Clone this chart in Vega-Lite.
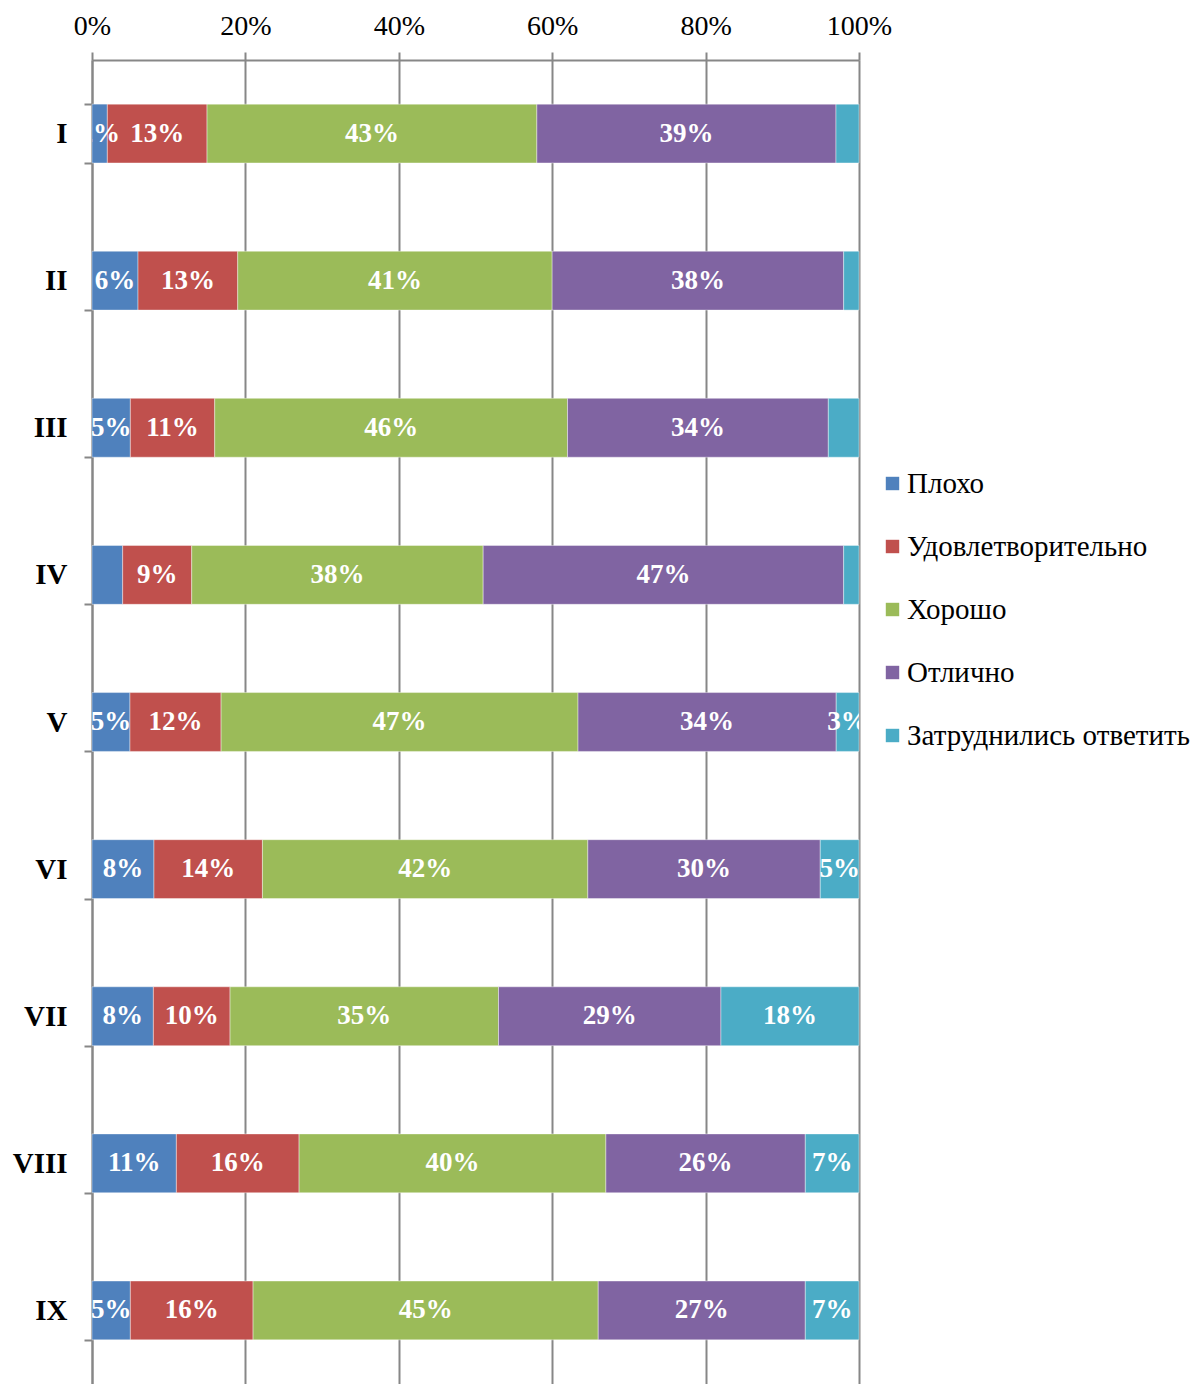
{
  "$schema": "https://vega.github.io/schema/vega-lite/v6.json",
  "autosize": {"type": "none"},
  "width": 767,
  "height": 1324,
  "padding": {"left": 92, "top": 60, "right": 338, "bottom": 0},
  "background": "white",
  "config": {"view": {"stroke": null}, "font": "Liberation Serif"},
  "data": {"values": [
    {"cat": "I", "s": "Плохо", "k": 1, "v": 2, "lab": "2%"},
    {"cat": "I", "s": "Удовлетворительно", "k": 2, "v": 13, "lab": "13%"},
    {"cat": "I", "s": "Хорошо", "k": 3, "v": 43, "lab": "43%"},
    {"cat": "I", "s": "Отлично", "k": 4, "v": 39, "lab": "39%"},
    {"cat": "I", "s": "Затруднились ответить", "k": 5, "v": 3, "lab": ""},
    {"cat": "II", "s": "Плохо", "k": 1, "v": 6, "lab": "6%"},
    {"cat": "II", "s": "Удовлетворительно", "k": 2, "v": 13, "lab": "13%"},
    {"cat": "II", "s": "Хорошо", "k": 3, "v": 41, "lab": "41%"},
    {"cat": "II", "s": "Отлично", "k": 4, "v": 38, "lab": "38%"},
    {"cat": "II", "s": "Затруднились ответить", "k": 5, "v": 2, "lab": ""},
    {"cat": "III", "s": "Плохо", "k": 1, "v": 5, "lab": "5%"},
    {"cat": "III", "s": "Удовлетворительно", "k": 2, "v": 11, "lab": "11%"},
    {"cat": "III", "s": "Хорошо", "k": 3, "v": 46, "lab": "46%"},
    {"cat": "III", "s": "Отлично", "k": 4, "v": 34, "lab": "34%"},
    {"cat": "III", "s": "Затруднились ответить", "k": 5, "v": 4, "lab": ""},
    {"cat": "IV", "s": "Плохо", "k": 1, "v": 4, "lab": ""},
    {"cat": "IV", "s": "Удовлетворительно", "k": 2, "v": 9, "lab": "9%"},
    {"cat": "IV", "s": "Хорошо", "k": 3, "v": 38, "lab": "38%"},
    {"cat": "IV", "s": "Отлично", "k": 4, "v": 47, "lab": "47%"},
    {"cat": "IV", "s": "Затруднились ответить", "k": 5, "v": 2, "lab": ""},
    {"cat": "V", "s": "Плохо", "k": 1, "v": 5, "lab": "5%"},
    {"cat": "V", "s": "Удовлетворительно", "k": 2, "v": 12, "lab": "12%"},
    {"cat": "V", "s": "Хорошо", "k": 3, "v": 47, "lab": "47%"},
    {"cat": "V", "s": "Отлично", "k": 4, "v": 34, "lab": "34%"},
    {"cat": "V", "s": "Затруднились ответить", "k": 5, "v": 3, "lab": "3%"},
    {"cat": "VI", "s": "Плохо", "k": 1, "v": 8, "lab": "8%"},
    {"cat": "VI", "s": "Удовлетворительно", "k": 2, "v": 14, "lab": "14%"},
    {"cat": "VI", "s": "Хорошо", "k": 3, "v": 42, "lab": "42%"},
    {"cat": "VI", "s": "Отлично", "k": 4, "v": 30, "lab": "30%"},
    {"cat": "VI", "s": "Затруднились ответить", "k": 5, "v": 5, "lab": "5%"},
    {"cat": "VII", "s": "Плохо", "k": 1, "v": 8, "lab": "8%"},
    {"cat": "VII", "s": "Удовлетворительно", "k": 2, "v": 10, "lab": "10%"},
    {"cat": "VII", "s": "Хорошо", "k": 3, "v": 35, "lab": "35%"},
    {"cat": "VII", "s": "Отлично", "k": 4, "v": 29, "lab": "29%"},
    {"cat": "VII", "s": "Затруднились ответить", "k": 5, "v": 18, "lab": "18%"},
    {"cat": "VIII", "s": "Плохо", "k": 1, "v": 11, "lab": "11%"},
    {"cat": "VIII", "s": "Удовлетворительно", "k": 2, "v": 16, "lab": "16%"},
    {"cat": "VIII", "s": "Хорошо", "k": 3, "v": 40, "lab": "40%"},
    {"cat": "VIII", "s": "Отлично", "k": 4, "v": 26, "lab": "26%"},
    {"cat": "VIII", "s": "Затруднились ответить", "k": 5, "v": 7, "lab": "7%"},
    {"cat": "IX", "s": "Плохо", "k": 1, "v": 5, "lab": "5%"},
    {"cat": "IX", "s": "Удовлетворительно", "k": 2, "v": 16, "lab": "16%"},
    {"cat": "IX", "s": "Хорошо", "k": 3, "v": 45, "lab": "45%"},
    {"cat": "IX", "s": "Отлично", "k": 4, "v": 27, "lab": "27%"},
    {"cat": "IX", "s": "Затруднились ответить", "k": 5, "v": 7, "lab": "7%"}
  ]},
  "transform": [
    {"stack": "v", "groupby": ["cat"], "sort": [{"field": "k", "order": "ascending"}], "offset": "normalize", "as": ["v0", "v1"]}
  ],
  "encoding": {
    "y": {
      "field": "cat", "type": "nominal", "sort": ["I","II","III","IV","V","VI","VII","VIII","IX"],
      "scale": {"paddingInner": 0.6, "paddingOuter": 0.3},
      "axis": {
        "title": null, "tickBand": "extent", "tickSize": 8, "tickColor": "#878787", "tickWidth": 2,
        "domainColor": "#878787", "domainWidth": 2, "labelFont": "Liberation Serif", "labelFontSize": 29,
        "labelFontWeight": "bold", "labelColor": "#000000", "labelPadding": 17, "grid": false
      }
    }
  },
  "layer": [
    {
      "mark": {"type": "bar", "stroke": "#ffffff", "strokeWidth": 1, "strokeOpacity": 0.4},
      "encoding": {
        "x": {
          "field": "v0", "type": "quantitative",
          "scale": {"domain": [0, 1], "nice": false},
          "axis": {
            "orient": "top", "title": null, "format": ".0%", "values": [0, 0.2, 0.4, 0.6, 0.8, 1],
            "grid": true, "gridColor": "#878787", "gridWidth": 2, "gridOpacity": 1,
            "tickSize": 8, "tickColor": "#878787", "tickWidth": 2,
            "domainColor": "#878787", "domainWidth": 2, "labelFont": "Liberation Serif", "labelFontSize": 28,
            "labelColor": "#000000", "labelPadding": 12, "labelFlush": false
          }
        },
        "x2": {"field": "v1"},
        "color": {
          "field": "s", "type": "nominal",
          "scale": {
            "domain": ["Плохо", "Удовлетворительно", "Хорошо", "Отлично", "Затруднились ответить"],
            "range": ["#4F81BD", "#C0504D", "#9BBB59", "#8064A2", "#4BACC6"]
          },
          "legend": {
            "title": null, "orient": "none", "legendX": 786, "legendY": 409,
            "symbolType": "square", "symbolSize": 180, "symbolStrokeWidth": 0,
            "labelFont": "Liberation Serif", "labelFontSize": 29, "labelColor": "#000000",
            "labelOffset": 0, "rowPadding": 33, "labelLimit": 400
          }
        }
      }
    },
    {
      "transform": [
        {"fold": ["v0", "v1"], "as": ["edge", "pos"]}
      ],
      "mark": {"type": "text", "color": "#ffffff", "font": "Liberation Serif", "fontSize": 27, "fontWeight": "bold", "clip": true, "baseline": "middle"},
      "encoding": {
        "x": {"field": "pos", "type": "quantitative", "aggregate": "mean", "stack": null},
        "detail": {"field": "s", "type": "nominal"},
        "text": {"field": "lab", "type": "nominal"}
      }
    }
  ]
}
